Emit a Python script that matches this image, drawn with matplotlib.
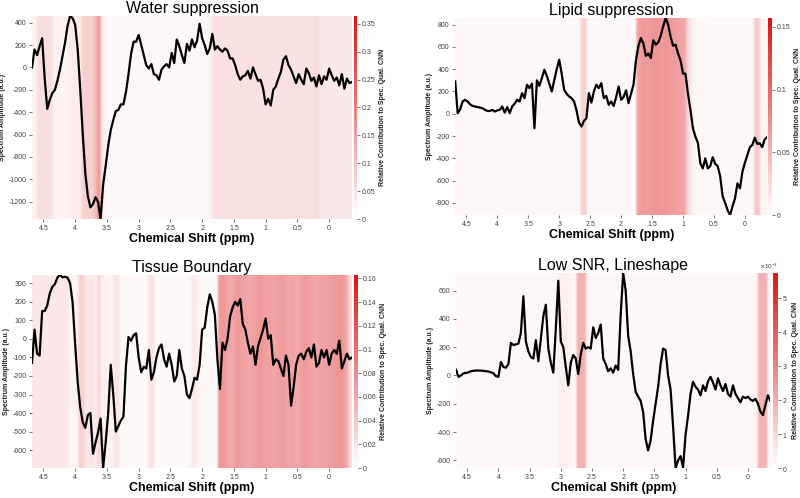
import numpy as np
import matplotlib
matplotlib.use('Agg')
import matplotlib.pyplot as plt
from matplotlib.colors import LinearSegmentedColormap
from matplotlib.ticker import FuncFormatter, ScalarFormatter

plt.rcParams['font.family'] = ['Liberation Sans', 'DejaVu Sans']
plt.rcParams['axes.unicode_minus'] = False

# chemical shift axis of the spectra (ppm), 0.04 ppm steps
ppm = np.linspace(4.68, -0.36, 127)

water = [0, 160, 110, 190, 260, -100, -370, -290, -230, -200,
         -120, -20, 100, 220, 370, 460, 440, 380, 160, -200,
         -600, -950, -1150, -1250, -1220, -1160, -1200, -1355, -1050, -880,
         -700, -560, -470, -390, -380, -330, -330, -220, -60, 120,
         230, 230, 290, 200, 110, 20, -10, 30, -60, -70,
         -110, -20, 10, 30, 0, 130, 40, 250, 190, 110,
         40, 210, 150, 250, 180, 240, 390, 260, 200, 120,
         170, 300, 160, 190, 160, 140, 170, 150, 80, 80,
         20, -60, -110, -80, -70, -30, -100, 0, -60, -120,
         -110, -190, -330, -280, -340, -200, -170, -100, -40, 70,
         100, 20, -20, -80, -140, -60, -110, -150, -10, -50,
         -120, -90, -170, -70, -150, -80, -110, -10, -70, -120,
         -90, -160, -60, -190, -100, -140, -130]

lipid = [290, 5, 40, 110, 125, 110, 85, 70, 65, 60,
         55, 50, 35, 25, 25, 35, 20, 30, 35, 65,
         10, 60, 5, 65, 90, 125, 110, 185, 140, 260,
         230, 270, -130, 300, 250, 320, 395, 340, 270, 200,
         300, 400, 485, 360, 215, 180, 155, 140, 110, 30,
         -80, -115, -65, -40, 185, 100, 200, 260, 230, 275,
         140, 160, 80, 110, 70, 150, 245, 125, 150, 210,
         95, 180, 260, 480, 610, 680, 630, 520, 540, 500,
         660, 620, 640, 700, 785, 860, 800, 690, 610, 620,
         540, 480, 360, 360, 180, 35, -130, -205, -260, -445,
         -490, -400, -490, -470, -390, -450, -470, -560, -740, -800,
         -865, -910, -830, -760, -625, -670, -520, -440, -370, -300,
         -280, -215, -270, -265, -300, -230, -210]

tissue = [-130, 50, -80, -90, 150, 150, 180, 245, 280, 295,
          330, 345, 332, 335, 330, 300, 195, -30, -235, -370,
          -450, -480, -410, -400, -620, -560, -505, -430, -697, -560,
          -400, -140, -300, -500, -470, -440, -420, -145, 10, -10,
          20, 30, -100, -180, -150, -160, -60, -220, -180, -100,
          -50, -30, -110, -150, -80, -140, -230, -200, -60, -160,
          -200, -300, -320, -270, -210, -220, -140, 50, 60, 170,
          240, 200, 130, -110, -270, -20, -60, 0, 120, 170,
          200, 180, 215, 80, 50, -20, -80, -40, -140, -40,
          5, 50, 110, 0, 20, -140, -110, -120, -160, -200,
          -90, -140, -360, -260, -140, -90, -80, -110, -70, -50,
          -100, -30, -150, -130, -60, -100, -60, -140, -80, -60,
          -80, -10, -160, -120, -80, -110, -100]

lowsnr = [40, -10, 0, 15, 18, 22, 30, 33, 35, 35,
          34, 33, 30, 28, 22, 15, -5, -10, 95, 60,
          55, 80, 230, 215, 220, 225, 300, 560, 240, 170,
          130, 120, 250, 100, 260, 420, 500, 190, 90, 20,
          330, 670, 240, 200, 60, -70, 90, 145, 120, 10,
          150, 230, 190, 200, 190, 340, 265, 300, 360, 120,
          80, 30, 50, 20, 70, 40, 430, 725, 600, 280,
          170, 10, -115, -150, -180, -260, -450, -530, -460, -320,
          -200, -80, 80, 190, 180, 0, -100, -360, -655, -600,
          -570, -650, -420, -285, -130, -45, -80, -100, -140, -70,
          -110, -40, -10, -50, -100, -20, -70, -110, -60, -130,
          -150, -70, -130, -160, -190, -150, -160, -150, -170, -180,
          -165, -200, -255, -280, -210, -140, -180]

# relative contribution maps, 0.05 ppm cells from 4.70 to -0.40 ppm
water_rel = ([0.02] * 2 + [0.05] * 5 + [0.02] * 5 + [0.03] * 4 + [0.075] * 4
             + [0.11, 0.165, 0.04, 0.015] + [0.012] * 33 + [0.045] * 32
             + [0.055] * 2 + [0.035] * 11)

lipid_rel = ([0.005] * 41 + [0.03] * 2 + [0.005] * 16
             + [0.062, 0.066, 0.068, 0.066, 0.068, 0.07, 0.07, 0.068,
                0.068, 0.07, 0.068, 0.066, 0.066, 0.064, 0.062, 0.06]
             + [0.03, 0.015, 0.008] + [0.005] * 19 + [0.035] * 2 + [0.008] * 3)

tissue_rel = ([0.016] * 12 + [0.008] * 3 + [0.032] * 2 + [0.016] * 3
              + [0.012, 0.03] + [0.012] * 2 + [0.008] * 2 + [0.018] * 2
              + [0.005] * 8 + [0.006, 0.02, 0.02] + [0.004] * 11
              + [0.01, 0.016, 0.012] + [0.005] * 6
              + [0.07, 0.072, 0.066, 0.06, 0.062, 0.068, 0.07, 0.066, 0.064, 0.06,
                 0.062, 0.066, 0.07, 0.072, 0.068, 0.064, 0.066, 0.062, 0.064, 0.068,
                 0.07, 0.066, 0.062, 0.064, 0.06, 0.062, 0.066, 0.07, 0.068, 0.064,
                 0.06, 0.062, 0.066, 0.064, 0.066, 0.068, 0.07, 0.072, 0.074, 0.07,
                 0.06]
              + [0.03, 0.01])

lowsnr_rel = ([0.0002] * 33 + [0.0004] * 4 + [0.0002] * 2 + [0.0019] * 3
              + [0.0002] * 55 + [0.0019] * 3 + [0.0002] * 2)

titles = ['Water suppression', 'Lipid suppression', 'Tissue Boundary', 'Low SNR, Lineshape']
spectra = [water, lipid, tissue, lowsnr]
relevance = [water_rel, lipid_rel, tissue_rel, lowsnr_rel]
cbar_max = [0.364, 0.157, 0.163, 0.00573]
cbar_ticks = [np.arange(0, 0.36, 0.05), [0, 0.05, 0.1, 0.15],
              np.arange(0, 0.17, 0.02), np.arange(0, 0.006, 0.001)]
y_ticks = [np.arange(-1200, 401, 200), np.arange(-800, 801, 200),
           np.arange(-600, 301, 100), np.arange(-600, 601, 200)]

positions = [[0.040, 0.560, 0.400, 0.408], [0.569, 0.568, 0.390, 0.396],
             [0.040, 0.060, 0.400, 0.388], [0.570, 0.060, 0.393, 0.392]]
cbar_pos = [[0.442, 0.560, 0.004, 0.408], [0.960, 0.568, 0.005, 0.396],
            [0.442, 0.060, 0.005, 0.388], [0.966, 0.060, 0.006, 0.392]]

cmap = LinearSegmentedColormap.from_list('white_red', ['#ffffff', '#dc1414'])
gray = '#404040'
fmt = FuncFormatter(lambda v, p: '%g' % v)

fig = plt.figure(figsize=(8, 4.98), dpi=100)

for i in range(4):
    ax = fig.add_axes(positions[i])
    y = np.array(spectra[i])
    ylo, yhi = y.min(), y.max()

    # relevance heatmap behind the spectrum
    img = ax.imshow(np.array(relevance[i])[None, :], cmap=cmap, vmin=0, vmax=cbar_max[i],
                    aspect='auto', interpolation='bilinear',
                    extent=[4.70, -0.40, ylo, yhi], zorder=0)
    ax.plot(ppm, y, color='black', lw=1.6, zorder=2)

    ax.set_xlim(4.68, -0.36)
    ax.set_ylim(ylo, yhi)
    ax.set_xticks([4.5, 4, 3.5, 3, 2.5, 2, 1.5, 1, 0.5, 0])
    ax.set_yticks(y_ticks[i])
    ax.xaxis.set_major_formatter(fmt)
    ax.tick_params(labelsize=5, colors=gray, length=2, width=0.5, pad=2)
    for s in ax.spines.values():
        s.set_visible(False)

    ax.set_title(titles[i], fontsize=11.5, pad=2)
    ax.set_xlabel('Chemical Shift (ppm)', fontsize=9, fontweight='bold', labelpad=1)
    ax.set_ylabel('Spectrum Amplitude (a.u.)', fontsize=5, fontweight='bold', labelpad=1.5,
                  color='#202020')

    cax = fig.add_axes(cbar_pos[i])
    cb = fig.colorbar(img, cax=cax)
    cb.outline.set_visible(False)
    cb.set_ticks(cbar_ticks[i])
    if i == 3:
        sf = ScalarFormatter(useMathText=True)
        sf.set_powerlimits((0, 0))
        cb.formatter = sf
        cb.update_ticks()
        cax.yaxis.get_offset_text().set_fontsize(4.5)
        cax.yaxis.get_offset_text().set_color(gray)
    else:
        cb.formatter = fmt
        cb.update_ticks()
    cax.tick_params(labelsize=5, colors=gray, length=2, width=0.5, pad=1.5)
    cb.set_label('Relative Contribution to Spec. Qual. CNN', fontsize=5,
                 fontweight='bold', labelpad=2.5, color='#202020')

fig.savefig('out.png', dpi=100)
